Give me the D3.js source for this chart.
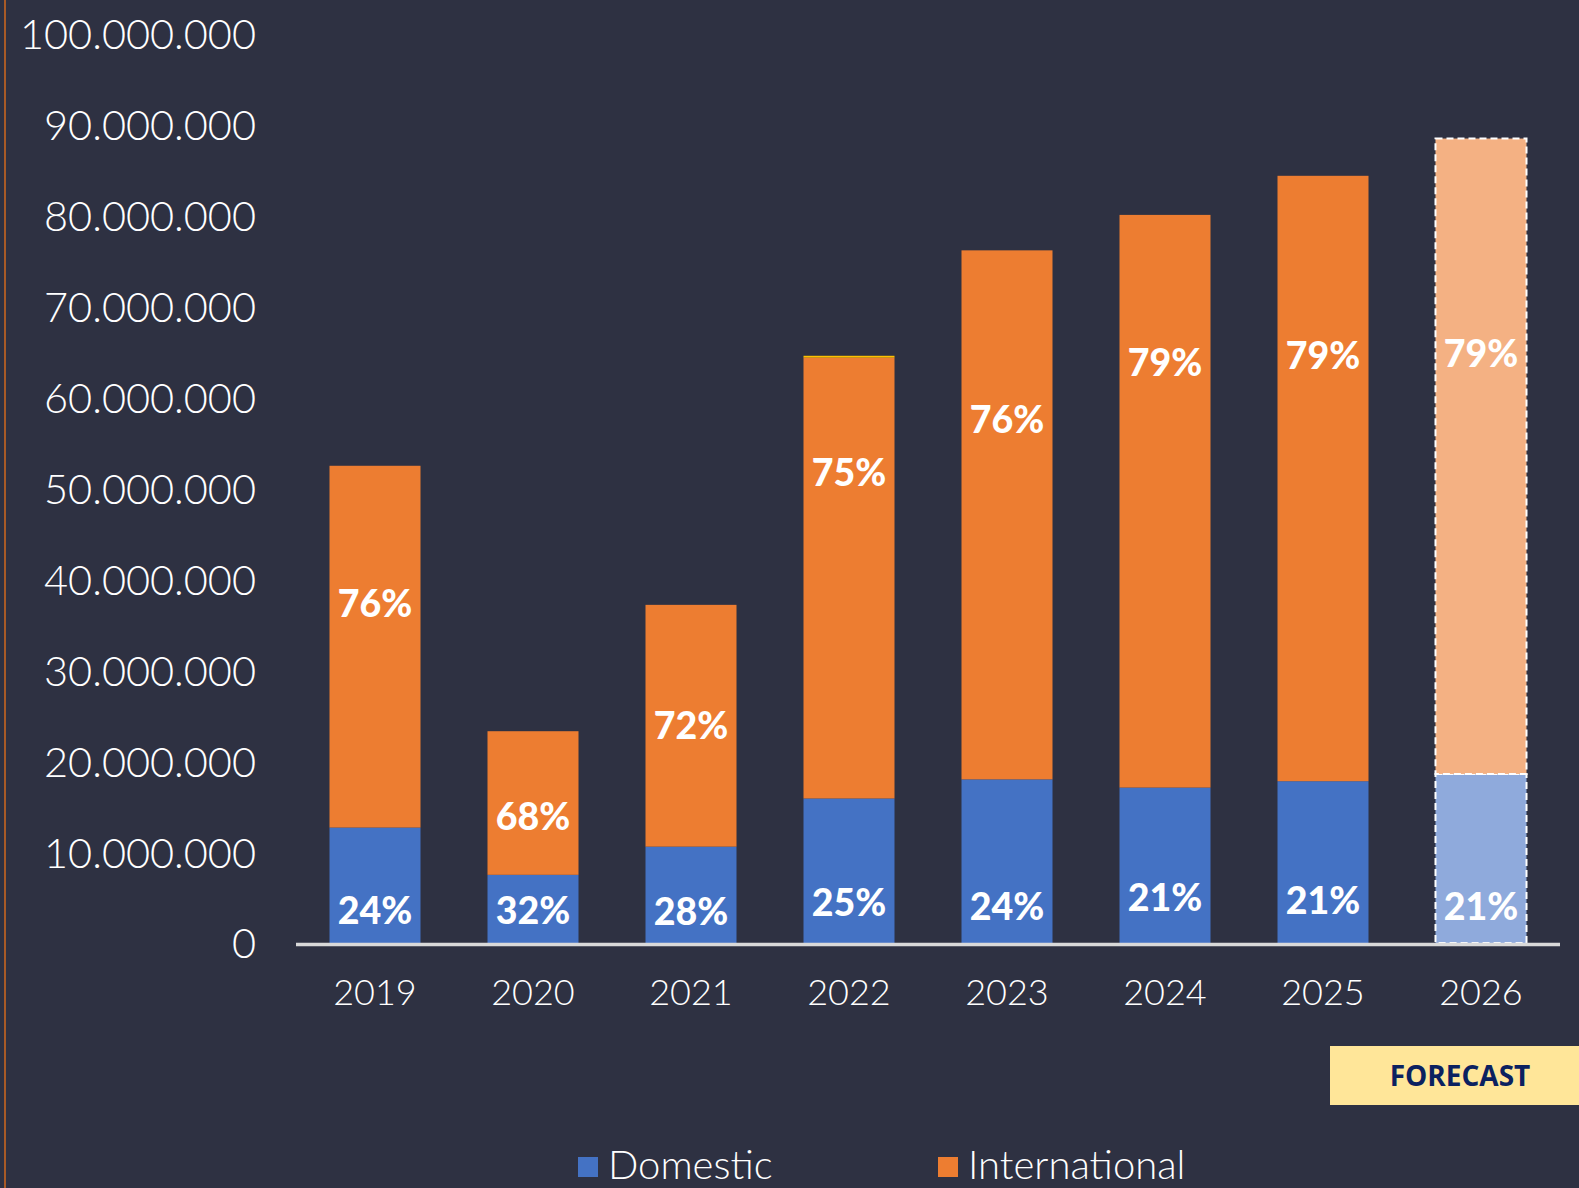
<!DOCTYPE html>
<html><head><meta charset="utf-8">
<script src="https://cdn.jsdelivr.net/npm/d3@7"></script>
<style>
html,body{margin:0;padding:0;background:#2e3142;overflow:hidden;}
svg{display:block;}
</style></head>
<body>
<script>
const years = ["2019","2020","2021","2022","2023","2024","2025","2026"];
const domestic = [12.7e6, 7.5e6, 10.6e6, 15.9e6, 18.0e6, 17.1e6, 17.8e6, 18.6e6];
const international = [39.8e6, 15.8e6, 26.6e6, 48.5e6, 58.2e6, 63.0e6, 66.6e6, 69.9e6];
const other = [0, 0, 0, 0.2e6, 0, 0, 0, 0];
const domesticPct = ["24%","32%","28%","25%","24%","21%","21%","21%"];
const internationalPct = ["76%","68%","72%","75%","76%","79%","79%","79%"];
const domesticLabelAt = [3.6e6, 3.6e6, 3.5e6, 4.5e6, 4.0e6, 5.0e6, 4.7e6, 4.0e6];
const internationalLabelAt = [37.3e6, 13.9e6, 23.9e6, 51.8e6, 57.6e6, 63.9e6, 64.6e6, 64.8e6];
const forecastYears = ["2026"];
const yTicks = [0,10e6,20e6,30e6,40e6,50e6,60e6,70e6,80e6,90e6,100e6];
const legendItems = ["Domestic","International"];

const W = 1579, H = 1188;
const colors = {Domestic:"#4472c4", International:"#ed7d31", Other:"#ffc000"};
const forecastColors = {Domestic:"#8faadc", International:"#f4b183", Other:"#ffd966"};

const svg = d3.select("body").append("svg").attr("width", W).attr("height", H);
svg.append("rect").attr("width", W).attr("height", H).attr("fill", "#2e3142");
svg.append("line").attr("x1", 5).attr("x2", 5).attr("y1", 0).attr("y2", H)
  .attr("stroke", "#d2691e").attr("stroke-width", 1.5);

const x = d3.scaleBand().domain(years).range([296, 1560]).paddingInner(0.424).paddingOuter(0.212);
const y = d3.scaleLinear().domain([0, 100e6]).range([943, 34]);

// y axis labels
const yAxis = d3.axisLeft(y).tickValues(yTicks)
  .tickFormat(d => d3.format(",")(d).replace(/,/g, ".")).tickSize(0).tickPadding(0);
const yg = svg.append("g").attr("transform", "translate(256,0)").call(yAxis);
yg.select(".domain").remove();
yg.selectAll("text").attr("fill", "#ffffff").attr("font-family", "Lato, sans-serif")
  .attr("font-weight", 300).attr("font-size", 41.5).attr("dy", "0.36em");

const rows = years.map((yr, i) => ({year: yr, Domestic: domestic[i], International: international[i], Other: other[i]}));
const stack = d3.stack().keys(["Domestic","International","Other"])(rows);

const g = svg.append("g");
stack.forEach(layer => {
  g.selectAll(null).data(layer).enter().append("rect")
    .attr("x", d => x(d.data.year))
    .attr("width", x.bandwidth())
    .attr("y", d => y(d[1]))
    .attr("height", d => Math.max(0, y(d[0]) - y(d[1])))
    .attr("fill", d => forecastYears.includes(d.data.year) ? forecastColors[layer.key] : colors[layer.key])
    .attr("stroke", d => forecastYears.includes(d.data.year) && d[1] > d[0] ? "#ffffff" : "none")
    .attr("stroke-width", 2)
    .attr("stroke-dasharray", "7,4");
});

// baseline
svg.append("line").attr("x1", 296).attr("x2", 1560).attr("y1", y(0) + 1.5).attr("y2", y(0) + 1.5)
  .attr("stroke", "#d9d9d9").attr("stroke-width", 3.5);

// x axis labels
const xAxis = d3.axisBottom(x).tickSize(0).tickPadding(0);
const xg = svg.append("g").attr("transform", `translate(0,${y(0)})`).call(xAxis);
xg.select(".domain").remove();
xg.selectAll("text").attr("fill", "#ffffff").attr("font-family", "Lato, sans-serif")
  .attr("font-weight", 300).attr("font-size", 36).attr("y", 49).attr("dy", "0.36em");

// percent labels
const pctStyle = sel => sel.attr("fill", "#ffffff").attr("font-family", "Lato, sans-serif")
  .attr("font-weight", 900).attr("font-size", 37.5).attr("text-anchor", "middle").attr("dy", "0.36em");
svg.append("g").selectAll("text").data(years).enter().append("text")
  .attr("x", d => x(d) + x.bandwidth() / 2)
  .attr("y", (d, i) => y(domesticLabelAt[i]))
  .text((d, i) => domesticPct[i]).call(pctStyle);
svg.append("g").selectAll("text").data(years).enter().append("text")
  .attr("x", d => x(d) + x.bandwidth() / 2)
  .attr("y", (d, i) => y(internationalLabelAt[i]))
  .text((d, i) => internationalPct[i]).call(pctStyle);

// forecast box
svg.append("rect").attr("x", 1330).attr("y", 1046).attr("width", 260).attr("height", 59).attr("fill", "#ffe699");
svg.append("text").attr("x", 1460).attr("y", 1076).attr("dy", "0.36em").attr("text-anchor", "middle")
  .attr("font-family", "'Open Sans', sans-serif").attr("font-weight", 700).attr("font-size", 28)
  .attr("fill", "#0b2160").text("FORECAST");

// legend
const legendX = [578, 938];
const lg = svg.append("g").selectAll("g").data(legendItems).enter().append("g")
  .attr("transform", (d, i) => `translate(${legendX[i]},1157)`);
lg.append("rect").attr("width", 20).attr("height", 20).attr("fill", d => colors[d]);
lg.append("text").attr("x", 30).attr("y", 22).attr("fill", "#ffffff")
  .attr("font-family", "Lato, sans-serif").attr("font-weight", 300).attr("font-size", 40).text(d => d);
</script>
</body></html>
